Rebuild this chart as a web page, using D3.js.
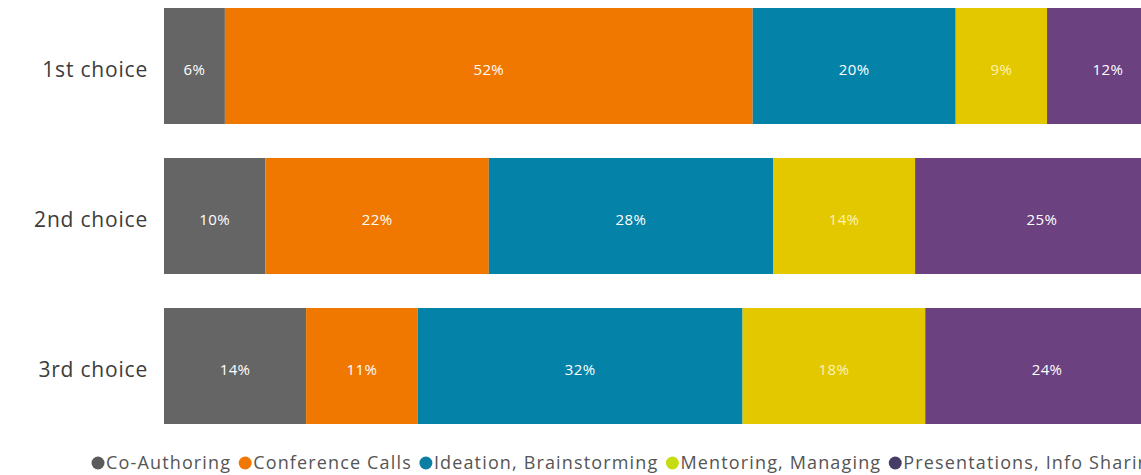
<!DOCTYPE html>
<html>
<head>
<meta charset="utf-8">
<script src="https://cdn.jsdelivr.net/npm/d3@7"></script>
<style>
  html, body { margin: 0; padding: 0; background: #fff; overflow: hidden; }
  svg { display: block; font-family: "Open Sans", "Noto Sans", sans-serif; }
</style>
</head>
<body>
<svg id="chart" width="1141" height="475"></svg>
<script>
// Ranked preferences: share of respondents per activity, by choice rank
const choices = ["1st choice", "2nd choice", "3rd choice"];
const activities = ["Co-Authoring", "Conference Calls", "Ideation, Brainstorming", "Mentoring, Managing", "Presentations, Info Sharing"];
const coAuthoring   = [6, 10, 14];
const conferenceCalls = [52, 22, 11];
const ideation      = [20, 28, 32];
const mentoring     = [9, 14, 18];
const presentations = [12, 25, 24];

const seriesValues = [coAuthoring, conferenceCalls, ideation, mentoring, presentations];
const barColors    = ["#656565", "#f07800", "#0482a8", "#e3c800", "#6b4180"];
const legendColors = ["#5b5b5b", "#f07800", "#0a7ea3", "#c6dc10", "#463d66"];

const rows = choices.map((c, i) => {
  const r = { choice: c };
  activities.forEach((a, j) => { r[a] = seriesValues[j][i]; });
  return r;
});

const stacked = d3.stack().keys(activities)(rows);

const svg = d3.select("#chart");

const x = d3.scaleLinear().domain([0, 100]).range([164, 1179]);
const y = d3.scaleBand().domain(choices).range([-9, 441])
  .paddingInner(0.2267).paddingOuter(0.1133);

const color = d3.scaleOrdinal().domain(activities).range(barColors);

const layers = svg.append("g").selectAll("g")
  .data(stacked)
  .join("g")
  .attr("fill", d => color(d.key));

layers.selectAll("rect")
  .data(d => d.map(p => ({ p, key: d.key })))
  .join("rect")
  .attr("x", d => x(d.p[0]))
  .attr("y", d => y(d.p.data.choice))
  .attr("width", d => x(d.p[1]) - x(d.p[0]))
  .attr("height", y.bandwidth());

// value labels centred in each segment
layers.selectAll("text")
  .data(d => d.map(p => ({ p, key: d.key })))
  .join("text")
  .attr("x", d => (x(d.p[0]) + x(d.p[1])) / 2)
  .attr("y", d => y(d.p.data.choice) + y.bandwidth() / 2 + 4)
  .attr("dy", "0.35em")
  .attr("text-anchor", "middle")
  .attr("fill", d => d.key === "Mentoring, Managing" ? "#fbf2b8" : "#ffffff")
  .attr("font-size", 15)
  .attr("letter-spacing", 0.4)
  .text(d => (d.p[1] - d.p[0]) + "%");

// category axis on the left, no domain line or ticks
const yAxis = svg.append("g")
  .attr("transform", `translate(${x(0)},4)`)
  .call(d3.axisLeft(y).tickSize(0).tickPadding(16));
yAxis.select(".domain").remove();
yAxis.selectAll("text")
  .attr("font-size", 21)
  .attr("letter-spacing", 0.8)
  .attr("fill", "#3c3c3c")
  .attr("font-family", "'Open Sans', 'Noto Sans', sans-serif");

// legend along the bottom
const legend = svg.append("g").attr("transform", "translate(92,463)");
let cursor = 0;
activities.forEach((a, i) => {
  const item = legend.append("g").attr("transform", `translate(${cursor},0)`);
  item.append("circle").attr("cx", 6).attr("cy", 0).attr("r", 6.5).attr("fill", legendColors[i]);
  const t = item.append("text")
    .attr("x", 14).attr("y", 0).attr("dy", "0.35em")
    .attr("font-size", 18).attr("letter-spacing", 1.15).attr("fill", "#555")
    .text(a);
  cursor += 14 + t.node().getComputedTextLength() + 8;
});
</script>
</body>
</html>
